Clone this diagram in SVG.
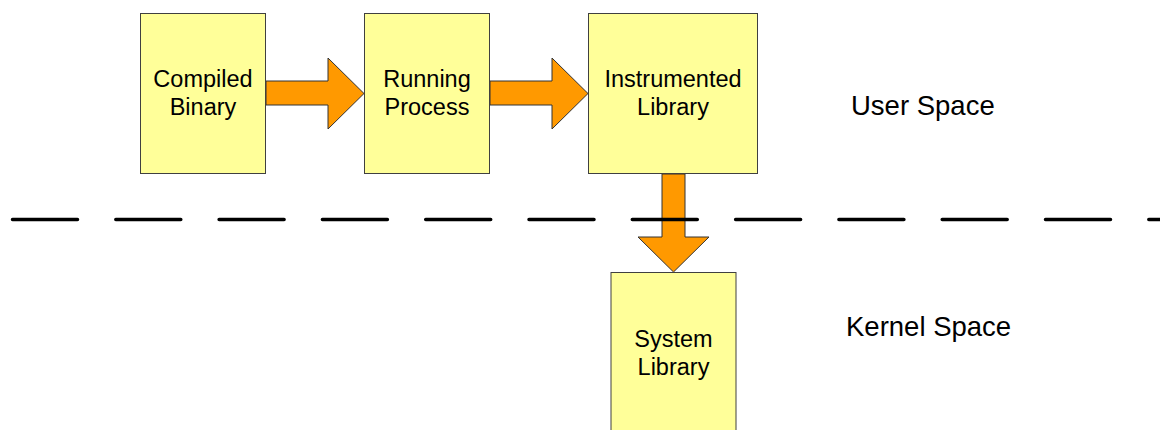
<svg xmlns="http://www.w3.org/2000/svg" width="1160" height="430" viewBox="0 0 1160 430">
  <style>
    .box { fill: #FFFF99; stroke: #404040; stroke-width: 1; }
    .arrow { fill: #FF9900; stroke: #333333; stroke-width: 1; stroke-linejoin: miter; }
    .label { font-family: "Liberation Sans", Arial, sans-serif; font-size: 23.5px; fill: #000000; text-anchor: middle; }
    .zone { font-family: "Liberation Sans", Arial, sans-serif; font-size: 27.5px; fill: #000000; }
    .divider { stroke: #000000; stroke-width: 3.5; stroke-linecap: round; stroke-dasharray: 65 38.3; fill: none; }
  </style>
  <rect width="1160" height="430" fill="#FFFFFF"/>

  <!-- block arrows between stages -->
  <g id="connectors">
    <polygon class="arrow" points="266,81 328,81 328,58 364,93.5 328,129 328,105 266,105"/>
    <polygon class="arrow" points="490,81 552,81 552,58 588,93.5 552,129 552,105 490,105"/>
    <polygon class="arrow" points="662,174 685,174 685,237 709,237 673.5,272 638,237 662,237"/>
  </g>

  <!-- user / kernel boundary -->
  <line class="divider" x1="12.5" y1="219.5" x2="1160" y2="219.5"/>

  <g id="compiled-binary">
    <rect class="box" x="140.5" y="13.5" width="125" height="160"/>
    <text class="label" x="203" y="87">Compiled</text>
    <text class="label" x="203" y="115">Binary</text>
  </g>

  <g id="running-process">
    <rect class="box" x="364.5" y="13.5" width="125" height="160"/>
    <text class="label" x="427" y="87">Running</text>
    <text class="label" x="427" y="115">Process</text>
  </g>

  <g id="instrumented-library">
    <rect class="box" x="588.5" y="13.5" width="169" height="160"/>
    <text class="label" x="673" y="87">Instrumented</text>
    <text class="label" x="673" y="115">Library</text>
  </g>

  <g id="system-library">
    <rect class="box" x="611" y="272.5" width="125" height="170"/>
    <text class="label" x="673.5" y="347">System</text>
    <text class="label" x="673.5" y="375">Library</text>
  </g>

  <g id="zone-labels">
    <text class="zone" x="851" y="115">User Space</text>
    <text class="zone" x="846" y="336">Kernel Space</text>
  </g>
</svg>
